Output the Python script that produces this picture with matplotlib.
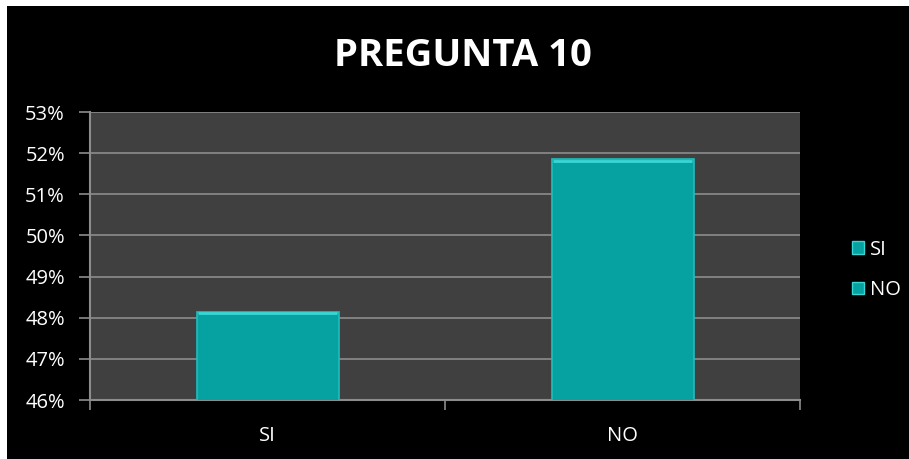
import matplotlib
matplotlib.use("Agg")
import matplotlib.pyplot as plt
from matplotlib.patches import Rectangle
from matplotlib.ticker import FuncFormatter, FixedLocator

categories = ["SI", "NO"]
values = [48.15, 51.85]
yticks = [46, 47, 48, 49, 50, 51, 52, 53]
title = "PREGUNTA 10"

W, H = 909, 459
fig = plt.figure(figsize=(W / 100, H / 100), dpi=100, facecolor="white")
fig.patches.append(Rectangle((7 / W, 0), 1 - 7 / W, 1 - 6 / H, transform=fig.transFigure,
                             facecolor="black", edgecolor="none", zorder=-10))

ax = fig.add_axes([90 / W, (H - 400) / H, 710 / W, 288 / H])
ax.set_zorder(2)
ax.set_facecolor("#404040")

bar_color = "#06a1a1"
x = list(range(len(categories)))
bars = ax.bar(x, values, width=0.4, color=bar_color, edgecolor="#1fbdbd", linewidth=1.2, zorder=3)
for b in bars:
    # bevel highlight on top edge
    ax.plot([b.get_x() + 0.004, b.get_x() + b.get_width() - 0.004], [b.get_height() - 0.03] * 2,
            color="#3ad6d6", lw=2, zorder=4, solid_capstyle="butt")

ax.set_xlim(-0.5, 1.5)
ax.set_ylim(46, 53)
ax.yaxis.set_major_locator(FixedLocator(yticks))
ax.yaxis.set_major_formatter(FuncFormatter(lambda v, p: f"{v:.0f}%"))
ax.grid(axis="y", color="#8c8c8c", linewidth=1.2, zorder=1)
ax.set_axisbelow(True)

FS = 14.5
ax.set_xticks(x)
ax.set_xticklabels(categories)
ax.set_xticks([-0.5, 0.5, 1.5], minor=True)
ax.tick_params(axis="x", which="major", length=0, pad=19, labelsize=FS, labelcolor="white")
ax.tick_params(axis="x", which="minor", length=7, width=1.2, color="#8c8c8c")
ax.tick_params(axis="y", length=8, width=1.2, color="#8c8c8c", labelsize=FS,
               labelcolor="white", pad=10)
for lbl in ax.get_xticklabels() + ax.get_yticklabels():
    lbl.set_fontfamily("Open Sans")

for s in ["top", "right"]:
    ax.spines[s].set_visible(False)
for s in ["left", "bottom"]:
    ax.spines[s].set_color("#8c8c8c")
    ax.spines[s].set_linewidth(1.5)

fig.text(463 / W, 1 - 56 / H, title, ha="center", va="center", color="white",
         fontsize=27.5, fontweight="bold", family="Open Sans")

# legend
leg_handles = [Rectangle((0, 0), 1, 1, facecolor=bar_color, edgecolor="#3ad6d6", lw=1) for _ in categories]
leg = fig.legend(leg_handles, categories, loc="center left", bbox_to_anchor=(834 / W, 1 - 270 / H),
                 frameon=False, labelcolor="white", handlelength=0.6, handleheight=0.6,
                 handletextpad=0.3, labelspacing=1.0, prop={"family": "Open Sans", "size": FS})

fig.savefig("out.png", dpi=100, facecolor=fig.get_facecolor())
